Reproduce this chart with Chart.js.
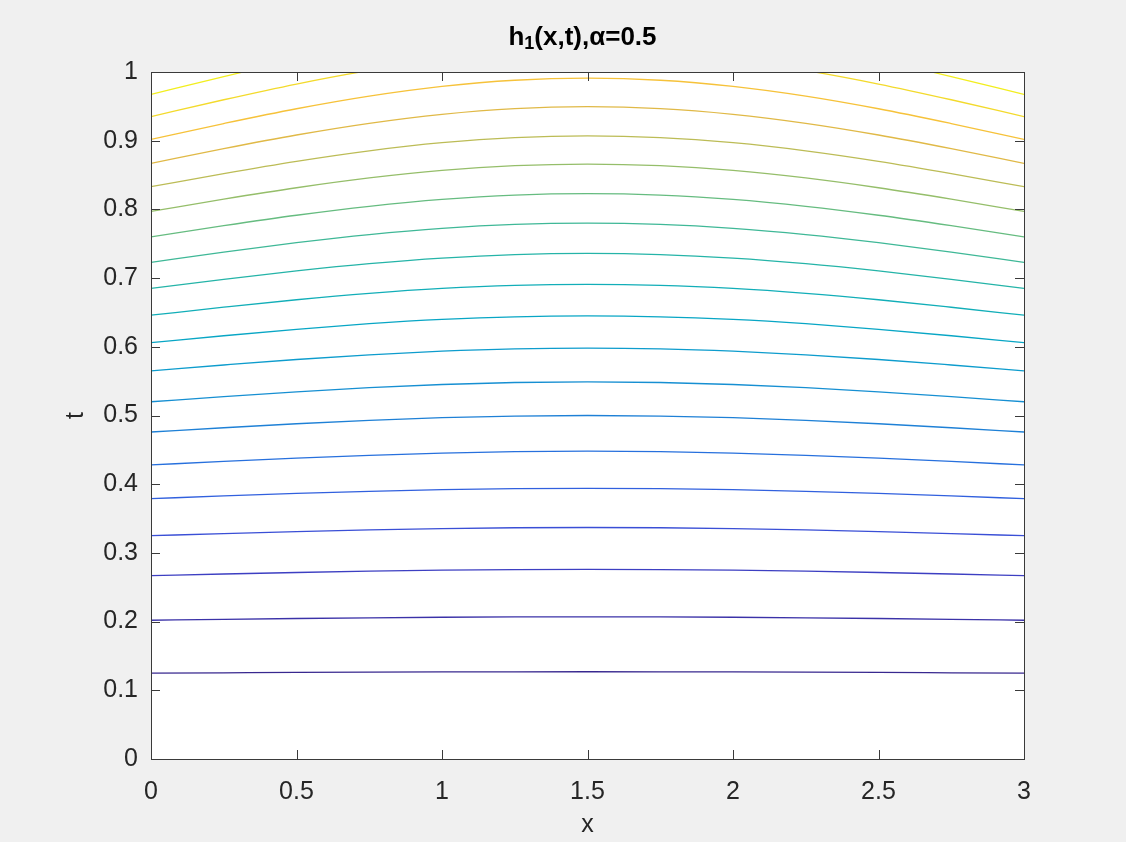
<!DOCTYPE html>
<html>
<head>
<meta charset="utf-8">
<title>h1(x,t) contours</title>
<script src="https://cdn.jsdelivr.net/npm/chart.js@4.4.0/dist/chart.umd.min.js"></script>
<style>
    html, body { margin: 0; padding: 0; background: #f0f0f0; }
    canvas { display: block; }
</style>
</head>
<body>
<canvas id="contourChart" width="1126" height="842"></canvas>
<script>
/* ---------- DATA ---------- */

// x positions where each contour line is sampled
const xGrid = [0, 0.25, 0.5, 0.75, 1, 1.25, 1.5, 1.75, 2, 2.25, 2.5, 2.75, 3];

// t value of every contour line along xGrid (bottom line first)
const line01 = [0.125, 0.1255, 0.126, 0.1264, 0.1267, 0.1269, 0.127, 0.1269, 0.1267, 0.1264, 0.126, 0.1255, 0.125];
const line02 = [0.202, 0.2033, 0.2045, 0.2055, 0.2063, 0.2068, 0.207, 0.2068, 0.2063, 0.2055, 0.2045, 0.2033, 0.202];
const line03 = [0.267, 0.2693, 0.2715, 0.2734, 0.2748, 0.2757, 0.276, 0.2757, 0.2748, 0.2734, 0.2715, 0.2693, 0.267];
const line04 = [0.325, 0.3281, 0.331, 0.3335, 0.3354, 0.3366, 0.337, 0.3366, 0.3354, 0.3335, 0.331, 0.3281, 0.325];
const line05 = [0.379, 0.3829, 0.3865, 0.3896, 0.392, 0.3935, 0.394, 0.3935, 0.392, 0.3896, 0.3865, 0.3829, 0.379];
const line06 = [0.428, 0.4332, 0.438, 0.4421, 0.4453, 0.4473, 0.448, 0.4473, 0.4453, 0.4421, 0.438, 0.4332, 0.428];
const line07 = [0.476, 0.4822, 0.488, 0.493, 0.4968, 0.4992, 0.5, 0.4992, 0.4968, 0.493, 0.488, 0.4822, 0.476];
const line08 = [0.52, 0.5275, 0.5345, 0.5405, 0.5451, 0.548, 0.549, 0.548, 0.5451, 0.5405, 0.5345, 0.5275, 0.52];
const line09 = [0.565, 0.5735, 0.5815, 0.5883, 0.5936, 0.5969, 0.598, 0.5969, 0.5936, 0.5883, 0.5815, 0.5735, 0.565];
const line10 = [0.606, 0.6161, 0.6255, 0.6336, 0.6398, 0.6437, 0.645, 0.6437, 0.6398, 0.6336, 0.6255, 0.6161, 0.606];
const line11 = [0.646, 0.6576, 0.6685, 0.6778, 0.685, 0.6895, 0.691, 0.6895, 0.685, 0.6778, 0.6685, 0.6576, 0.646];
const line12 = [0.685, 0.6982, 0.7105, 0.7211, 0.7292, 0.7343, 0.736, 0.7343, 0.7292, 0.7211, 0.7105, 0.6982, 0.685];
const line13 = [0.723, 0.7378, 0.7515, 0.7633, 0.7724, 0.7781, 0.78, 0.7781, 0.7724, 0.7633, 0.7515, 0.7378, 0.723];
const line14 = [0.76, 0.7763, 0.7915, 0.8045, 0.8146, 0.8209, 0.823, 0.8209, 0.8146, 0.8045, 0.7915, 0.7763, 0.76];
const line15 = [0.797, 0.8149, 0.8315, 0.8458, 0.8568, 0.8636, 0.866, 0.8636, 0.8568, 0.8458, 0.8315, 0.8149, 0.797];
const line16 = [0.833, 0.8522, 0.87, 0.8853, 0.8971, 0.9045, 0.907, 0.9045, 0.8971, 0.8853, 0.87, 0.8522, 0.833];
const line17 = [0.867, 0.8884, 0.9083, 0.9253, 0.9384, 0.9467, 0.9495, 0.9467, 0.9384, 0.9253, 0.9083, 0.8884, 0.867];
const line18 = [0.902, 0.925, 0.9465, 0.9649, 0.9791, 0.988, 0.991, 0.988, 0.9791, 0.9649, 0.9465, 0.925, 0.902];
const line19 = [0.935, 0.9596, 0.9825, 1.0022, 1.0173, 1.0268, 1.03, 1.0268, 1.0173, 1.0022, 0.9825, 0.9596, 0.935];
const line20 = [0.9675, 0.9934, 1.0175, 1.0382, 1.0541, 1.0641, 1.0675, 1.0641, 1.0541, 1.0382, 1.0175, 0.9934, 0.9675];

const contourLines = [line01, line02, line03, line04, line05, line06, line07, line08, line09, line10,
                      line11, line12, line13, line14, line15, line16, line17, line18, line19, line20];

// parula-like colours, low level to high level
const lineColors = [
    "#38288f", "#3b32a8", "#3d3fc2", "#3a4fd6", "#3160de",
    "#2770dd", "#1e80d6", "#168fd2", "#0d9ccd", "#08a6c5",
    "#12aeb8", "#25b4a8", "#3fb897", "#66bc80", "#95be6a",
    "#bcbc56", "#e0b947", "#f6c23a", "#f3da2c", "#f2ee1e"
];

// title pieces: base, subscript, rest
const titleParts = ["h", "1", "(x,t),\u03b1=0.5"];
const xLabel = "x";
const yLabel = "t";

/* ---------- PLUGINS ---------- */

const FONT_FAMILY = "'Liberation Sans', Arial, sans-serif";
const TEXT_COLOR = "#262626";
const AXIS_COLOR = "#3a3a3a";
const TICK_LEN = 9;

// white axes background, box outline and inward tick marks on all four sides
const axesBox = {
    id: "axesBox",
    beforeDraw(chart) {
        const { ctx, chartArea: a } = chart;
        ctx.save();
        ctx.fillStyle = "#ffffff";
        ctx.fillRect(a.left, a.top, a.right - a.left, a.bottom - a.top);
        ctx.restore();
    },
    afterDraw(chart) {
        const { ctx, chartArea: a, scales } = chart;
        ctx.save();
        ctx.strokeStyle = AXIS_COLOR;
        ctx.lineWidth = 1;
        ctx.beginPath();

        scales.x.ticks.forEach(t => {
            const px = Math.round(scales.x.getPixelForValue(t.value)) + 0.5;
            ctx.moveTo(px, a.bottom);
            ctx.lineTo(px, a.bottom - TICK_LEN);
            ctx.moveTo(px, a.top);
            ctx.lineTo(px, a.top + TICK_LEN);
        });

        scales.y.ticks.forEach(t => {
            const py = Math.round(scales.y.getPixelForValue(t.value)) + 0.5;
            ctx.moveTo(a.left, py);
            ctx.lineTo(a.left + TICK_LEN, py);
            ctx.moveTo(a.right, py);
            ctx.lineTo(a.right - TICK_LEN, py);
        });
        ctx.stroke();

        ctx.strokeRect(Math.round(a.left) + 0.5, Math.round(a.top) + 0.5,
                       Math.round(a.right - a.left), Math.round(a.bottom - a.top));
        ctx.restore();
    }
};

// bold title over the axes, with a real subscript
const subTitle = {
    id: "subTitle",
    afterDraw(chart) {
        const { ctx, chartArea: a } = chart;
        const mainFont = "bold 26px " + FONT_FAMILY;
        const subFont = "bold 18px " + FONT_FAMILY;
        const baseY = 45;

        ctx.save();
        ctx.fillStyle = "#000000";
        ctx.textBaseline = "alphabetic";
        ctx.textAlign = "left";

        ctx.font = mainFont;
        const w0 = ctx.measureText(titleParts[0]).width;
        const w2 = ctx.measureText(titleParts[2]).width;
        ctx.font = subFont;
        const w1 = ctx.measureText(titleParts[1]).width;

        let x = (a.left + a.right) / 2 - 5 - (w0 + w1 + w2) / 2;
        ctx.font = mainFont;
        ctx.fillText(titleParts[0], x, baseY);
        x += w0;
        ctx.font = subFont;
        ctx.fillText(titleParts[1], x, baseY + 4);
        x += w1;
        ctx.font = mainFont;
        ctx.fillText(titleParts[2], x, baseY);
        ctx.restore();
    }
};

/* ---------- CHART ---------- */

const datasets = contourLines.map((line, i) => ({
    data: xGrid.map((x, j) => ({ x: x, y: line[j] })),
    showLine: true,
    borderColor: lineColors[i],
    borderWidth: 1.3,
    pointRadius: 0,
    cubicInterpolationMode: "monotone",
    fill: false
}));

const tickFont = { family: FONT_FAMILY, size: 25 };
const fmt = v => String(+v.toFixed(1));

new Chart(document.getElementById("contourChart").getContext("2d"), {
    type: "scatter",
    data: { datasets },
    options: {
        responsive: false,
        animation: false,
        events: [],
        layout: { padding: { left: 0, right: 102, top: 72, bottom: 0 } },
        plugins: {
            legend: { display: false },
            tooltip: { enabled: false },
            title: { display: false }
        },
        scales: {
            x: {
                type: "linear",
                min: 0,
                max: 3,
                ticks: { stepSize: 0.5, color: TEXT_COLOR, font: tickFont, padding: 18, maxRotation: 0, callback: fmt },
                grid: { display: false, drawTicks: false },
                border: { display: false },
                title: { display: true, text: xLabel, color: TEXT_COLOR, font: tickFont, padding: { top: 0, bottom: 2 } },
                afterFit(scale) { scale.height = 83; }
            },
            y: {
                type: "linear",
                min: 0,
                max: 1,
                ticks: { stepSize: 0.1, color: TEXT_COLOR, font: tickFont, padding: 13, callback: fmt },
                grid: { display: false, drawTicks: false },
                border: { display: false },
                title: { display: true, text: yLabel, color: TEXT_COLOR, font: tickFont, padding: { top: 61, bottom: 0 } },
                afterFit(scale) { scale.width = 151; }
            }
        }
    },
    plugins: [axesBox, subTitle]
});
</script>
</body>
</html>
